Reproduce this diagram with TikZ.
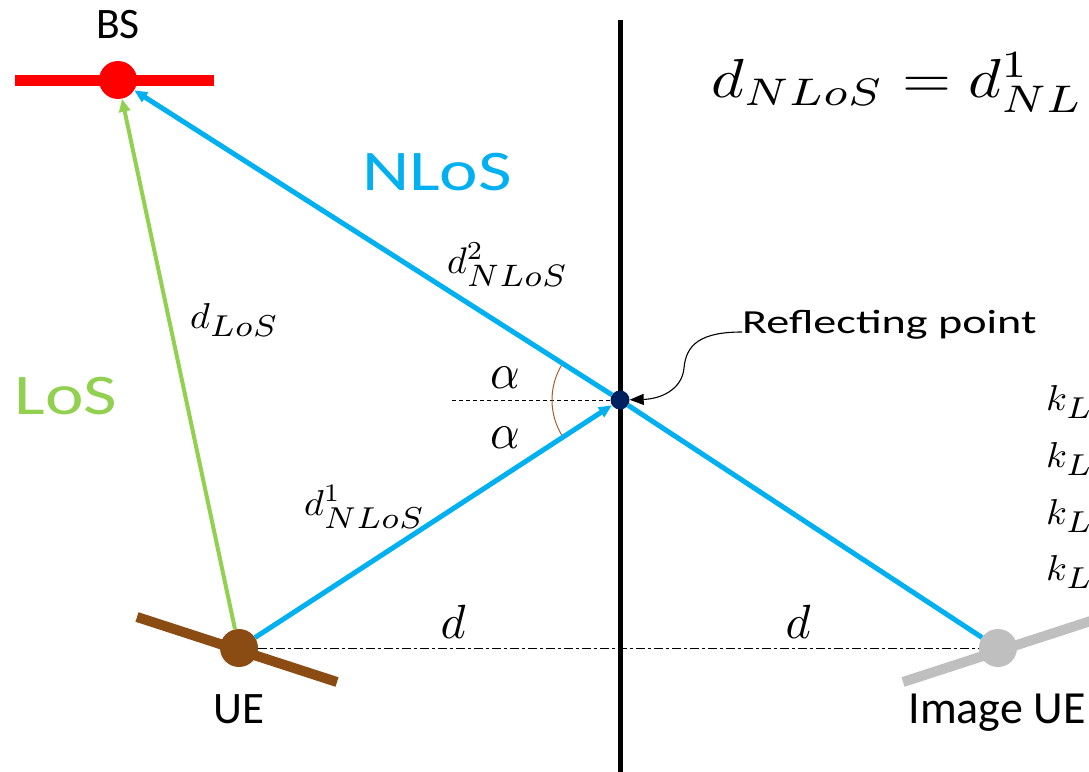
\documentclass[tikz,border=0pt]{standalone}
\usepackage{graphicx}
\usepackage{fontspec}
\setmainfont{Carlito}
\usetikzlibrary{arrows.meta,calc}
\definecolor{bsred}{HTML}{FF0000}
\definecolor{losgreen}{HTML}{92D050}
\definecolor{nlosblue}{HTML}{00B0F0}
\definecolor{uebrown}{HTML}{8B4C14}
\definecolor{imggray}{HTML}{BFBFBF}
\definecolor{rpnavy}{HTML}{002060}
\definecolor{arcbrown}{HTML}{A0602D}
\tikzset{
  dev/.style={circle, inner sep=0pt, minimum size=38pt},
  bar/.style={line width=10pt},
  nlosline/.style={draw=nlosblue, line width=5pt},
  losline/.style={draw=losgreen, line width=4pt},
  tip/.style={-{Triangle[length=13pt,width=11pt]}},
  lbl/.style={inner sep=0pt},
}
\newcommand{\fs}[1]{\fontsize{#1}{#1}\selectfont}
\newcommand{\mth}[3]{\scalebox{#1}[#2]{$#3$}}
\newcommand{\sbx}[1]{\scalebox{1.2}{$\scriptstyle #1$}}
\begin{document}
\begin{tikzpicture}[x=1pt,y=-1pt]
\useasboundingbox (0,0) rectangle (1089,771);
\clip (0,0) rectangle (1089,771);

% wall
\coordinate (walltop) at (620,20);
\coordinate (wallbot) at (620,775);
\draw[line width=5pt] (walltop) -- (wallbot);

% BS
\coordinate (bsl) at (15,80);
\coordinate (bsr) at (214,80);
\draw[bsred, line width=11pt] (bsl) -- (bsr);
\node[dev, fill=bsred] (bs) at (118,80) {};
\node[lbl, anchor=base, font=\fs{43.5}] (bstext) at (118,38) {BS};

% UE
\coordinate (uea) at (137,617);
\coordinate (ueb) at (337,682);
\draw[uebrown, bar] (uea) -- (ueb);
\node[dev, fill=uebrown] (ue) at (239,648) {};
\node[lbl, anchor=base, font=\fs{45}] (uetext) at (239,723) {UE};

% Image UE
\coordinate (imga) at (903,682);
\coordinate (imgb) at (1103,617);
\draw[imggray, bar] (imga) -- (imgb);
\node[dev, fill=imggray] (img) at (998,648) {};
\node[lbl, anchor=base, font=\fs{46}] (imgtext) at (997,723) {Image UE};

% reflecting point
\node[circle, fill=rpnavy, inner sep=0pt, minimum size=19pt] (rp) at (620,400) {};

% dash-dot distance line
\draw[line width=1pt, dash pattern=on 9pt off 3pt on 3pt off 3pt] (ue) -- (img);
% normal
\coordinate (nrm) at (452,400);
\draw[line width=0.8pt, dash pattern=on 4pt off 3pt] (nrm) -- (rp);

% angle arc
\draw[arcbrown, line width=1pt] (rp.center) ++(147:68) arc[start angle=147, end angle=213, radius=68];

% rays
\draw[nlosline] (img) -- (rp);
\draw[nlosline, tip] (rp) -- (bs);
\draw[nlosline, tip] (ue) -- (rp);
\draw[losline, tip] (ue) -- (bs);

% big labels
\node[lbl, anchor=base, text=nlosblue, font=\fs{57.5}] (nlostext) at (437,190) {\scalebox{1.27}[1]{NLoS}};
\node[lbl, anchor=base, text=losgreen, font=\fs{57.5}] (lostext) at (66,414) {\scalebox{1.27}[1]{LoS}};

% reflecting point label & arrow
\node[lbl, anchor=base west, font=\fs{33.7}] (rptext) at (742,333) {\scalebox{1.37}[1]{Reflecting point}};
\draw[line width=1.1pt, -{Triangle[length=14pt,width=11pt]}] ([yshift=1pt]rptext.base west) .. controls (700,332) and (686,345) .. (684,368) .. controls (682,390) and (660,399) .. (rp);

% math labels
\node[lbl, anchor=base west] (eq) at (711,97) {\mth{6.3}{5.5}{d_{NLoS}=d^1_{NL}}};
\node[lbl, anchor=base west] (dlos) at (190,328) {\mth{3.8}{3.6}{d_{\sbx{LoS}}}};
\node[lbl, anchor=base west] (d1) at (304,515) {\mth{3.8}{3.6}{d^1_{\sbx{NLoS}}}};
\node[lbl, anchor=base west] (d2) at (447,273) {\mth{3.8}{3.7}{d^2_{\sbx{NLoS}}}};
\node[lbl, anchor=base] (dl) at (453,638) {\mth{4.8}{4.8}{d}};
\node[lbl, anchor=base] (dr) at (798,638) {\mth{4.8}{4.8}{d}};
\node[lbl, anchor=base] (a1) at (505,388) {\mth{4.6}{5}{\alpha}};
\node[lbl, anchor=base] (a2) at (505,448) {\mth{4.6}{5}{\alpha}};
\node[lbl, anchor=base west] (k1) at (1046,410) {\mth{3.8}{3.6}{k_{\sbx{L}}}};
\node[lbl, anchor=base west] (k2) at (1046,467) {\mth{3.8}{3.6}{k_{\sbx{L}}}};
\node[lbl, anchor=base west] (k3) at (1046,524) {\mth{3.8}{3.6}{k_{\sbx{L}}}};
\node[lbl, anchor=base west] (k4) at (1046,580) {\mth{3.8}{3.6}{k_{\sbx{L}}}};
\end{tikzpicture}
\end{document}
